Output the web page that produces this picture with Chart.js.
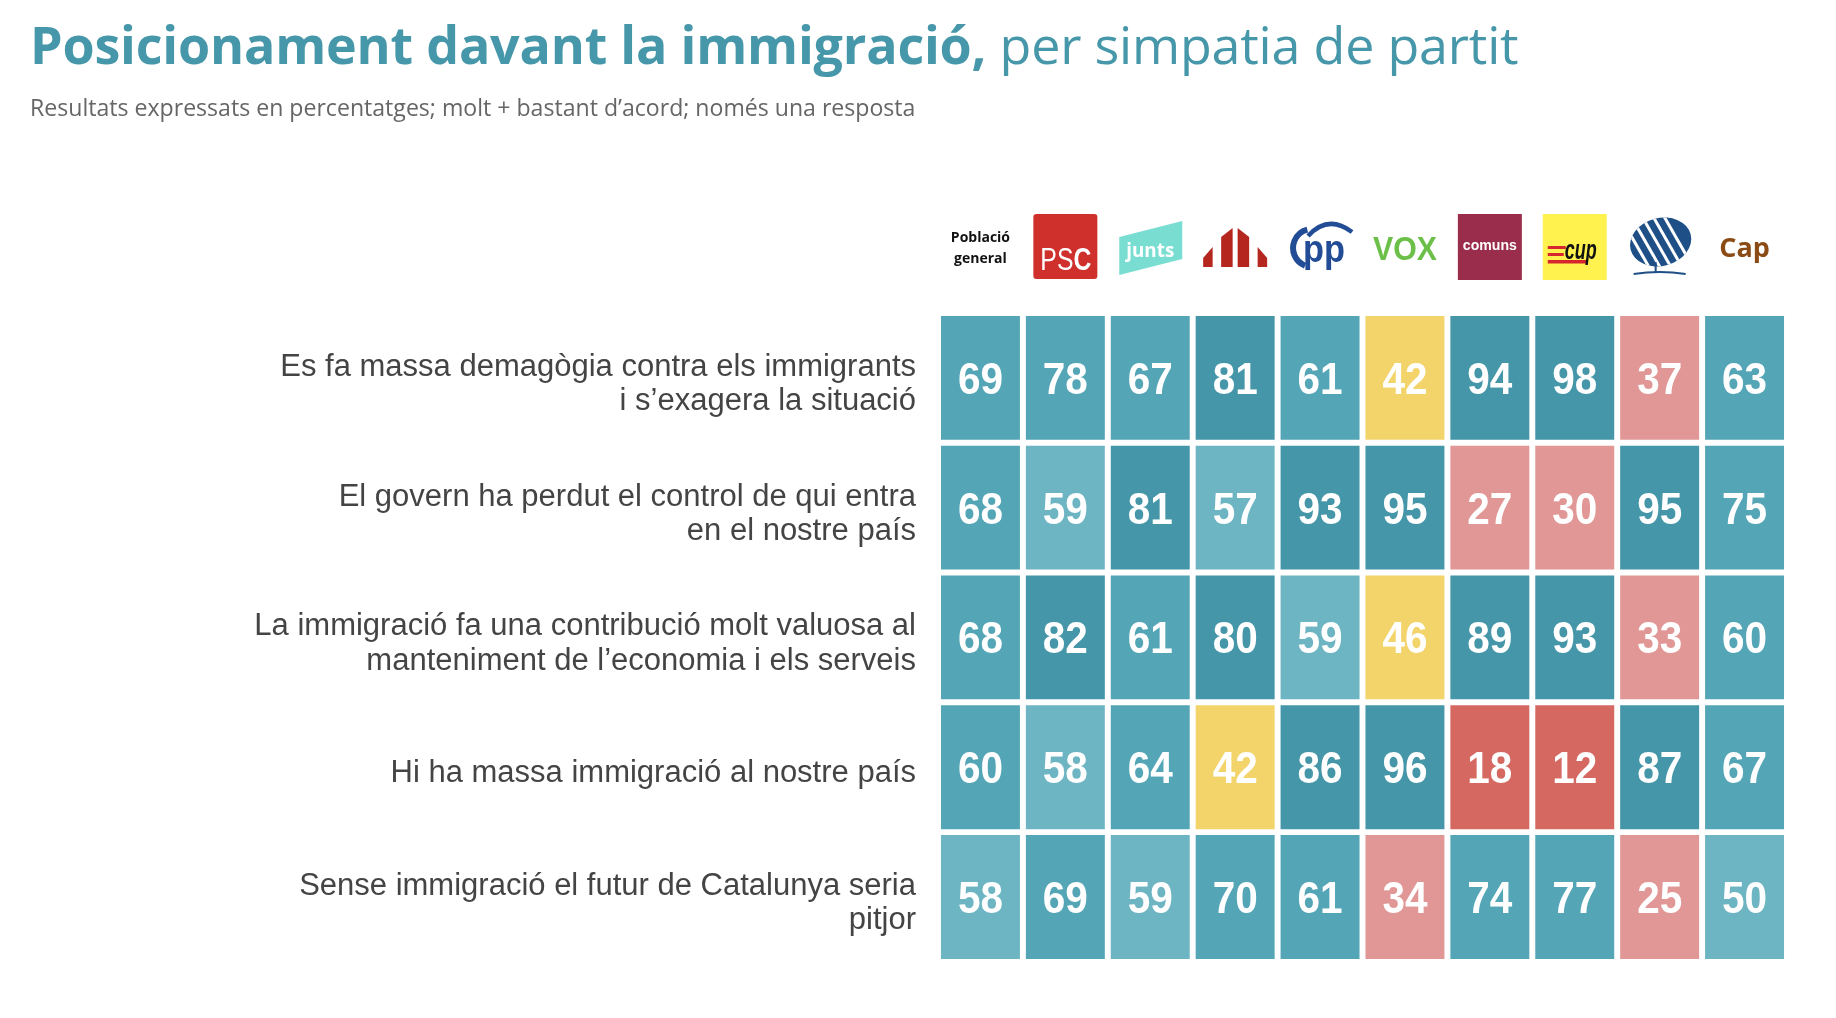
<!DOCTYPE html>
<html lang="ca">
<head>
<meta charset="utf-8">
<title>Posicionament davant la immigració</title>
<script src="https://cdn.jsdelivr.net/npm/chart.js@4.4.1/dist/chart.umd.min.js"></script>
<style>
  html, body { margin: 0; padding: 0; background: #fff; overflow: hidden; }
  #wrap { position: relative; width: 1836px; height: 1018px; overflow: hidden; }
  #wrap canvas { position: absolute; left: 0; top: 0; width: 1836px; height: 1018px; }
  .title {
    position: absolute; left: 30px; top: 18px; margin: 0;
    font-family: 'Open Sans', sans-serif; font-size: 52px; line-height: 1;
    color: #4697a9; white-space: nowrap; letter-spacing: -0.2px;
  }
  .title b { font-weight: 700; }
  .title span { font-weight: 400; }
  .subtitle {
    position: absolute; left: 30px; top: 96px; margin: 0;
    font-family: 'Open Sans', sans-serif; font-size: 23.1px; line-height: 1;
    color: #666; white-space: nowrap;
  }
</style>
</head>
<body>
<div id="wrap">
  <canvas id="myChart" width="1836" height="1018"></canvas>
  <h1 class="title"><b>Posicionament davant la immigració,</b> <span>per simpatia de partit</span></h1>
  <p class="subtitle">Resultats expressats en percentatges; molt + bastant d’acord; només una resposta</p>
</div>
<script>
// columnes (partits)
var parties = ['Població general', 'PSC', 'Junts', 'ERC', 'PP', 'Vox', 'Comuns', 'CUP', 'Aliança Catalana', 'Cap'];

// afirmacions (files)
var statements = [
  ['Es fa massa demagògia contra els immigrants', 'i s’exagera la situació'],
  ['El govern ha perdut el control de qui entra', 'en el nostre país'],
  ['La immigració fa una contribució molt valuosa al', 'manteniment de l’economia i els serveis'],
  ['Hi ha massa immigració al nostre país'],
  ['Sense immigració el futur de Catalunya seria', 'pitjor']
];

// valors (%)
var demagogia  = [69, 78, 67, 81, 61, 42, 94, 98, 37, 63];
var control    = [68, 59, 81, 57, 93, 95, 27, 30, 95, 75];
var economia   = [68, 82, 61, 80, 59, 46, 89, 93, 33, 60];
var massa      = [60, 58, 64, 42, 86, 96, 18, 12, 87, 67];
var futur      = [58, 69, 59, 70, 61, 34, 74, 77, 25, 50];

var rows = [demagogia, control, economia, massa, futur];

function cellColor(v) {
  if (v >= 80) return '#4496a8';
  if (v >= 60) return '#54a6b7';
  if (v >= 50) return '#6db5c2';
  if (v >= 40) return '#f2d46b';
  if (v >= 20) return '#e09795';
  return '#d66862';
}

var GAP = 0.023;        // espai entre files (en unitats de fila)
var LABEL_SHIFT = 0.05; // les etiquetes queden una mica més avall del centre

var datasets = rows.map(function(values, r) {
  return {
    label: statements[r].join(' '),
    values: values,
    data: values.map(function() { return [r + GAP, r + 1 - GAP]; }),
    backgroundColor: values.map(cellColor),
    borderWidth: 0,
    borderSkipped: false,
    grouped: false,
    barPercentage: 0.93,
    categoryPercentage: 1
  };
});

// números dins de cada cel·la
var cellLabels = {
  id: 'cellLabels',
  afterDatasetsDraw: function(chart) {
    var ctx = chart.ctx;
    ctx.save();
    ctx.fillStyle = '#fff';
    ctx.font = 'bold 45px "Liberation Sans", Arial, sans-serif';
    ctx.textAlign = 'center';
    ctx.textBaseline = 'alphabetic';
    chart.data.datasets.forEach(function(ds, di) {
      chart.getDatasetMeta(di).data.forEach(function(el, i) {
        var cy = (el.y + el.base) / 2;
        ctx.save();
        ctx.translate(el.x, cy + 16);
        ctx.scale(0.9, 1);
        ctx.fillText(String(ds.values[i]), 0, 0);
        ctx.restore();
      });
    });
    ctx.restore();
  }
};

// logos dels partits (simplificats)
function fitText(ctx, txt, x, y, w) {
  var m = ctx.measureText(txt).width;
  ctx.save();
  ctx.translate(x, y);
  ctx.scale(Math.min(1, w / m), 1);
  ctx.fillText(txt, 0, 0);
  ctx.restore();
}

var logoDrawers = [
  function(ctx, cx) { // Població general
    ctx.fillStyle = '#111';
    ctx.font = 'bold 14px "Open Sans", sans-serif';
    ctx.textAlign = 'center';
    fitText(ctx, 'Població', cx, 242, 60);
    fitText(ctx, 'general', cx, 263, 56);
  },
  function(ctx, cx) { // PSC
    ctx.fillStyle = '#d0302b';
    ctx.beginPath();
    ctx.roundRect(cx - 32, 214, 64, 65, 3);
    ctx.fill();
    ctx.fillStyle = '#fff';
    ctx.textAlign = 'left';
    ctx.save();
    ctx.translate(cx - 25, 270);
    ctx.scale(0.8, 1);
    ctx.font = '31px "Liberation Sans", Arial, sans-serif';
    ctx.fillText('PS', 0, 0);
    var w = ctx.measureText('PS').width;
    ctx.font = 'bold 31px "Liberation Sans", Arial, sans-serif';
    ctx.fillText('C', w, 0);
    ctx.restore();
  },
  function(ctx, cx) { // Junts
    ctx.fillStyle = '#79ded1';
    ctx.beginPath();
    ctx.moveTo(cx - 31, 237);
    ctx.lineTo(cx + 32, 221);
    ctx.lineTo(cx + 32, 259);
    ctx.lineTo(cx - 31, 275);
    ctx.closePath();
    ctx.fill();
    ctx.fillStyle = '#fff';
    ctx.font = 'bold 19px "Open Sans", sans-serif';
    ctx.textAlign = 'center';
    fitText(ctx, 'junts', cx, 257, 48);
  },
  function(ctx, cx) { // ERC
    ctx.fillStyle = '#b5261e';
    var b = 267;
    var pieces = [
      [cx - 32, cx - 22.5, 258, 247],
      [cx - 14, cx - 2.5, 237, 228],
      [cx + 2.5, cx + 14, 228, 237],
      [cx + 22.5, cx + 32, 247, 258]
    ];
    pieces.forEach(function(p) {
      ctx.beginPath();
      ctx.moveTo(p[0], b);
      ctx.lineTo(p[0], p[2]);
      ctx.lineTo(p[1], p[3]);
      ctx.lineTo(p[1], b);
      ctx.closePath();
      ctx.fill();
    });
  },
  function(ctx, cx) { // PP
    ctx.strokeStyle = '#224c96';
    ctx.fillStyle = '#224c96';
    ctx.lineWidth = 6;
    ctx.beginPath();
    ctx.arc(cx - 8, 248, 19, Math.PI * 0.62, Math.PI * 1.42);
    ctx.stroke();
    ctx.lineWidth = 4.5;
    ctx.beginPath();
    ctx.moveTo(cx - 12, 236);
    ctx.quadraticCurveTo(cx + 8, 214, cx + 32, 232);
    ctx.stroke();
    ctx.font = 'bold 38px "Liberation Sans", Arial, sans-serif';
    ctx.textAlign = 'center';
    fitText(ctx, 'pp', cx + 4, 262, 42);
  },
  function(ctx, cx) { // Vox
    ctx.fillStyle = '#6cc04a';
    ctx.font = 'bold 33px "Liberation Sans", Arial, sans-serif';
    ctx.textAlign = 'center';
    fitText(ctx, 'VOX', cx, 260, 64);
  },
  function(ctx, cx) { // Comuns
    ctx.fillStyle = '#9a2d4c';
    ctx.fillRect(cx - 32, 214, 64, 66);
    ctx.fillStyle = '#fff';
    ctx.font = 'bold 15px "Liberation Sans", Arial, sans-serif';
    ctx.textAlign = 'center';
    fitText(ctx, 'comuns', cx, 250, 54);
  },
  function(ctx, cx) { // CUP
    ctx.fillStyle = '#fff24e';
    ctx.fillRect(cx - 32, 214, 64, 66);
    ctx.fillStyle = '#d6262e';
    ctx.fillRect(cx - 27, 246, 18, 3);
    ctx.fillRect(cx - 27, 253, 16, 3);
    ctx.fillRect(cx - 27, 260, 40, 3.5);
    ctx.fillStyle = '#111';
    ctx.font = 'italic bold 27px "Liberation Sans", Arial, sans-serif';
    ctx.textAlign = 'center';
    fitText(ctx, 'cup', cx + 6, 259, 32);
  },
  function(ctx, cx) { // Aliança Catalana
    ctx.save();
    ctx.fillStyle = '#1f4f87';
    ctx.beginPath();
    ctx.ellipse(cx + 1, 242, 31, 24, -0.25, 0, Math.PI * 2);
    ctx.fill();
    ctx.clip();
    ctx.strokeStyle = '#fff';
    ctx.lineWidth = 3;
    for (var k = -3; k <= 3; k++) {
      ctx.beginPath();
      ctx.moveTo(cx - 30 + k * 11, 214);
      ctx.lineTo(cx + 2 + k * 11, 270);
      ctx.stroke();
    }
    ctx.restore();
    ctx.strokeStyle = '#1f4f87';
    ctx.lineWidth = 2;
    ctx.beginPath();
    ctx.moveTo(cx - 4, 262);
    ctx.lineTo(cx - 4, 272);
    ctx.moveTo(cx - 26, 274);
    ctx.quadraticCurveTo(cx, 270, cx + 26, 274);
    ctx.stroke();
  },
  function(ctx, cx) { // Cap
    ctx.fillStyle = '#8b4b15';
    ctx.font = 'bold 27px "Open Sans", sans-serif';
    ctx.textAlign = 'center';
    ctx.fillText('Cap', cx, 257);
  }
];

var partyLogos = {
  id: 'partyLogos',
  afterDraw: function(chart) {
    var ctx = chart.ctx;
    var x = chart.scales.x;
    parties.forEach(function(p, i) {
      ctx.save();
      ctx.textBaseline = 'alphabetic';
      logoDrawers[i](ctx, x.getPixelForValue(i));
      ctx.restore();
    });
  }
};

document.addEventListener('DOMContentLoaded', function() {
  var ctx = document.getElementById('myChart').getContext('2d');

  new Chart(ctx, {
    type: 'bar',
    data: {
      labels: parties,
      datasets: datasets
    },
    plugins: [cellLabels, partyLogos],
    options: {
      responsive: false,
      animation: false,
      devicePixelRatio: 1,
      layout: {
        padding: { top: 313, right: 49, bottom: 50, left: 0 }
      },
      scales: {
        x: {
          display: false
        },
        y: {
          min: 0,
          max: 5,
          reverse: true,
          border: { display: false },
          grid: { display: false, drawTicks: false },
          afterFit: function(scale) { scale.width = 938; },
          afterBuildTicks: function(scale) {
            scale.ticks = statements.map(function(s, i) { return { value: i + 0.5 + LABEL_SHIFT }; });
          },
          ticks: {
            autoSkip: false,
            padding: 22,
            color: '#444',
            font: { family: '"Liberation Sans", Arial, sans-serif', size: 31, lineHeight: 1.1 },
            callback: function(value, index) { return statements[index]; }
          }
        }
      },
      plugins: {
        legend: { display: false },
        title: { display: false },
        tooltip: { enabled: false }
      }
    }
  });
});
</script>
</body>
</html>
